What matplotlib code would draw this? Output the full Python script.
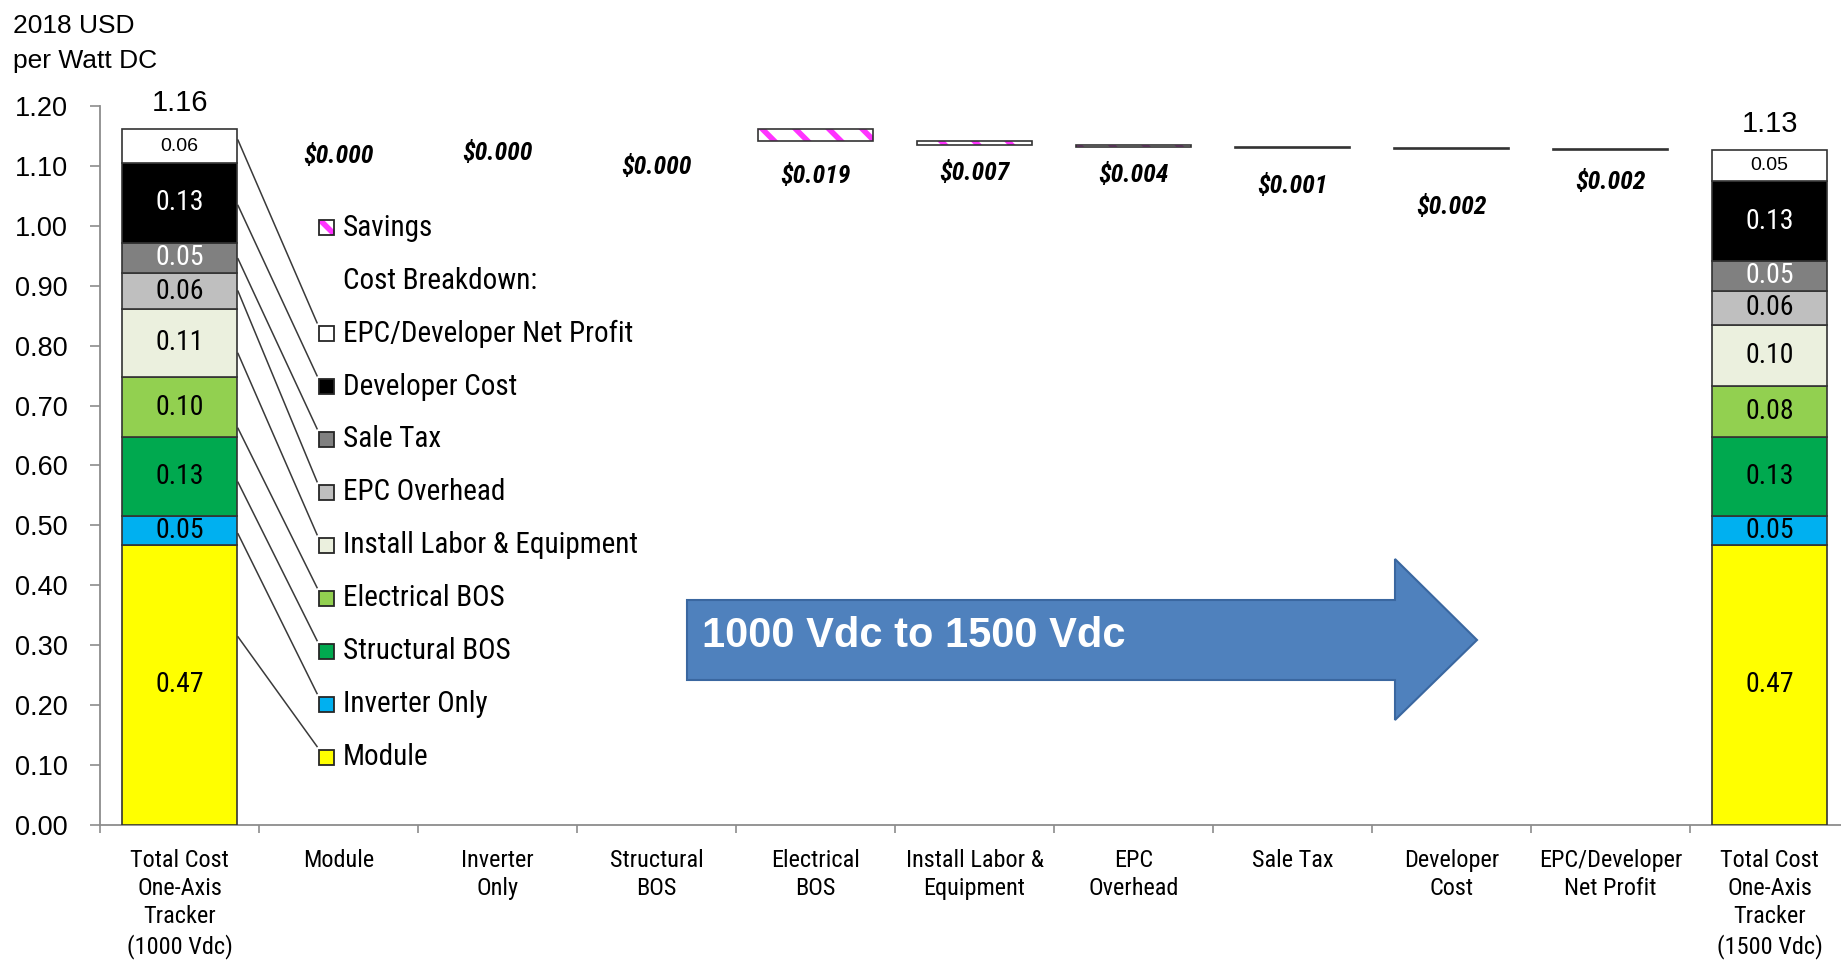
import numpy as np
import matplotlib
matplotlib.use('Agg')
import matplotlib.pyplot as plt
import matplotlib.font_manager as fm
from matplotlib.patches import Polygon, Rectangle
from matplotlib.transforms import Affine2D

plt.rcParams['font.family'] = ['Liberation Sans', 'DejaVu Sans']
plt.rcParams['hatch.linewidth'] = 4

# look for a condensed sans face (the original uses Arial Narrow)
cands = [f for f in fm.fontManager.ttflist
         if (f.stretch in ('condensed', 'semi-condensed') or 'Narrow' in f.name or 'Condensed' in f.name)
         and f.style == 'normal' and f.weight in (400, 'normal', 'regular')]
pick = None
for pref in ['Liberation Sans Narrow', 'Arial Narrow', 'Roboto Condensed', 'Noto Sans', 'Open Sans', 'DejaVu Sans']:
    for f in cands:
        if f.name.startswith(pref):
            pick = f
            break
    if pick:
        break
if pick:
    NARROW = dict(family=[pick.name, 'Liberation Sans'], fontstretch=pick.stretch)
    k = 1.0
else:
    NARROW = dict(family=['Liberation Sans', 'DejaVu Sans'])
    k = 0.86

# data
categories = ['Total Cost\nOne-Axis\nTracker\n(1000 Vdc)', 'Module', 'Inverter\nOnly',
              'Structural\nBOS', 'Electrical\nBOS', 'Install Labor &\nEquipment',
              'EPC\nOverhead', 'Sale Tax', 'Developer\nCost', 'EPC/Developer\nNet Profit',
              'Total Cost\nOne-Axis\nTracker\n(1500 Vdc)']
components = ['Module', 'Inverter Only', 'Structural BOS', 'Electrical BOS',
              'Install Labor & Equipment', 'EPC Overhead', 'Sale Tax',
              'Developer Cost', 'EPC/Developer Net Profit']
cost_1000 = [0.468, 0.047, 0.132, 0.101, 0.113, 0.060, 0.051, 0.133, 0.056]
cost_1500 = [0.468, 0.048, 0.132, 0.084, 0.103, 0.057, 0.049, 0.134, 0.051]
savings = [0.000, 0.000, 0.000, 0.019, 0.007, 0.004, 0.001, 0.002, 0.002]

# styles / layout
colors = ['#FFFF00', '#00B0F0', '#00A94F', '#92D050', '#EBF0DE',
          '#BFBFBF', '#808080', '#000000', '#FFFFFF']
label_colors = ['black', 'black', 'black', 'black', 'black', 'black', 'white', 'white', 'black']
saving_label_y = [1.1165, 1.122, 1.0986, 1.0831, 1.0888, 1.0848, 1.0673, 1.032, 1.0731]
leader_start = [0.314, 0.486, 0.572, 0.662, 0.787, 0.891, 0.945, 1.034, 1.143]
legend_top, legend_step = 0.997, 0.0884
W = 0.72
EDGE = '#333333'
HATCH = '#FF33FF'

fig = plt.figure(figsize=(18.41, 9.6), dpi=100)
ax = fig.add_axes([100 / 1841, 135 / 960, 1749 / 1841, 719 / 960])
px = Affine2D().scale(1 / 1841, -1 / 960).translate(0, 1) + fig.transFigure

# stacked total bars
for xi, vals in [(0, cost_1000), (10, cost_1500)]:
    bottom = 0
    for j, v in enumerate(vals):
        ax.bar(xi, v, bottom=bottom, width=W, color=colors[j], edgecolor=EDGE, linewidth=1.2, zorder=3)
        if j == len(vals) - 1:
            ax.text(xi, bottom + v / 2, f'{v:.2f}', ha='center', va='center',
                    fontsize=14, color=label_colors[j], zorder=4)
        else:
            ax.text(xi, bottom + v / 2, f'{v:.2f}', ha='center', va='center',
                    fontsize=20 * k, color=label_colors[j], zorder=4, **NARROW)
        bottom += v
    ax.annotate(f'{bottom:.2f}', (xi, bottom), xytext=(0, 13.5), textcoords='offset points',
                ha='center', va='baseline', fontsize=21)

# savings waterfall
running = sum(cost_1000)
for i, s in enumerate(savings):
    xi = i + 1
    if s > 0:
        ax.bar(xi, s, bottom=running - s, width=W, color='white', edgecolor=HATCH,
               hatch='\\', linewidth=0, zorder=3)
        ax.bar(xi, s, bottom=running - s, width=W, fill=False, edgecolor='#333333',
               linewidth=1.2, zorder=4)
    ax.text(xi, saving_label_y[i], f'${s:.3f}', ha='center', va='center', fontsize=18.5 * k,
            fontweight='bold', fontstyle='italic', **NARROW)
    running -= s

# legend with leader lines
def row_y(r):
    return legend_top - r * legend_step

mw, mh = 0.096, 0.025
ax.add_patch(Rectangle((0.877, row_y(0) - mh / 2), mw, mh, facecolor='white', edgecolor=HATCH,
                       hatch='\\', linewidth=0, clip_on=False, zorder=3))
ax.add_patch(Rectangle((0.877, row_y(0) - mh / 2), mw, mh, fill=False, edgecolor='#262626',
                       linewidth=1.3, clip_on=False, zorder=4))
ax.text(1.028, row_y(0), 'Savings', va='center', fontsize=21 * k, **NARROW)
ax.text(1.028, row_y(1), 'Cost Breakdown:', va='center', fontsize=21 * k, **NARROW)
for j, name in enumerate(components):
    r = 10 - j
    ax.add_patch(Rectangle((0.877, row_y(r) - mh / 2), mw, mh, facecolor=colors[j],
                           edgecolor='#262626', linewidth=1.3, clip_on=False, zorder=3))
    ax.text(1.028, row_y(r), name, va='center', fontsize=21 * k, **NARROW)
    ax.plot([0.368, 0.865], [leader_start[j], row_y(r) + 0.018], color='#3a3a3a',
            linewidth=1.1, zorder=2)

# arrow
arrow = Polygon([(687, 600), (1395, 600), (1395, 559), (1477, 640), (1395, 720),
                 (1395, 680), (687, 680)], closed=True, transform=px,
                facecolor='#4F81BD', edgecolor='#3A67A0', linewidth=1.5)
fig.patches.append(arrow)
fig.text(702, 636, '1000 Vdc to 1500 Vdc', transform=px, color='white', fontsize=30,
         fontweight='bold', va='center', ha='left')

# unit label
fig.text(13, 33, '2018 USD', transform=px, fontsize=19, va='baseline')
fig.text(13, 68, 'per Watt DC', transform=px, fontsize=19, va='baseline')

# axes styling
ax.set_xlim(-0.5, 10.5)
ax.set_ylim(0, 1.2)
ax.set_yticks(np.linspace(0, 1.2, 13))
ax.yaxis.set_major_formatter(matplotlib.ticker.FormatStrFormatter('%.2f'))
ax.tick_params(axis='y', length=7, width=1.2, color='#8c8c8c', pad=16, labelsize=19.5)
ax.set_xticks(np.arange(-0.5, 10, 1))
ax.set_xticklabels([])
ax.set_xticks(np.arange(len(categories)), minor=True)
ax.set_xticklabels(categories, minor=True, fontsize=17.5 * k, linespacing=1.3, **NARROW)
ax.tick_params(axis='x', which='major', length=6, width=1.2, color='#8c8c8c')
ax.tick_params(axis='x', which='minor', length=0, pad=17)
for s in ['top', 'right']:
    ax.spines[s].set_visible(False)
for s in ['left', 'bottom']:
    ax.spines[s].set_color('#8c8c8c')
    ax.spines[s].set_linewidth(1.3)

fig.savefig('out.png', dpi=100)
